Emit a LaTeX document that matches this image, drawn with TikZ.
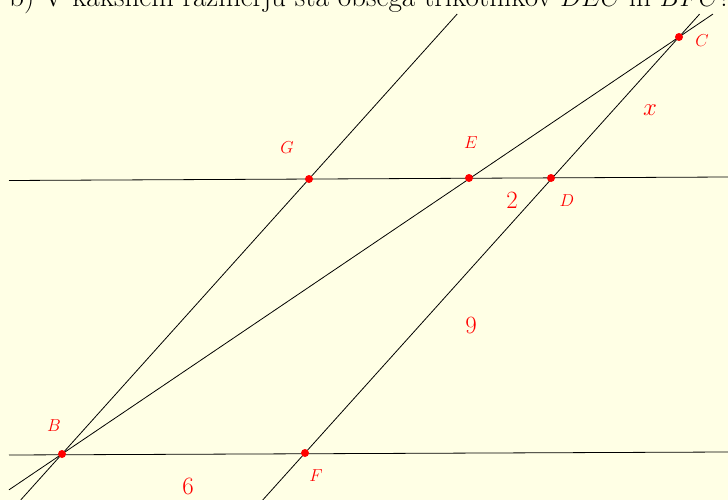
\documentclass[tikz,border=0pt]{standalone}
\usetikzlibrary{calc}
\definecolor{bgc}{RGB}{255,255,229}
\begin{document}
\begin{tikzpicture}[x=1pt,y=-1pt,
  ln/.style={black,line width=0.8pt},
  pt/.style={circle,fill=red,inner sep=0pt,minimum size=8pt},
  lab/.style={red,font=\fontsize{19}{22}\selectfont},
  num/.style={red,font=\fontsize{30}{34}\selectfont}]
\fill[bgc] (0,0) rectangle (728,500);
\useasboundingbox (0,0) rectangle (728,500);
\begin{scope}
\clip (0,0) rectangle (728,500);
\node[anchor=base west,inner sep=0pt,font=\fontsize{29.2}{33}\selectfont] (title) at (9,7) {b) V kakšnem razmerju sta obsega trikotnikov $DEC$ in $BFC$?};
\coordinate (B) at (62,454);
\coordinate (F) at (305,453);
\coordinate (G) at (309,179);
\coordinate (E) at (469,178);
\coordinate (D) at (551,178);
\coordinate (C) at (679,37);
% horizontal lines
\coordinate (h1l) at (9,180.5);
\coordinate (h1r) at (728,177);
\coordinate (h2l) at (9,455);
\coordinate (h2r) at (728,452);
\draw[ln] (h1l) -- (h1r);
\draw[ln] (h2l) -- (h2r);
% line B-G
\coordinate (bg1) at ($(B)!-0.167!(G)$);
\coordinate (bg2) at ($(B)!1.6!(G)$);
\draw[ln] (bg1) -- (bg2);
% line B-C
\coordinate (bc1) at ($(B)!-0.086!(C)$);
\coordinate (bc2) at ($(B)!1.055!(C)$);
\draw[ln] (bc1) -- (bc2);
% line F-C
\coordinate (fc1) at ($(F)!-0.113!(C)$);
\coordinate (fc2) at ($(F)!1.055!(C)$);
\draw[ln] (fc1) -- (fc2);
\end{scope}
\foreach \p in {B,F,G,E,D,C} \node[pt] (n\p) at (\p) {};
\node[lab] (lC) at (702,41) {$C$};
\node[lab] (lG) at (287,148) {$G$};
\node[lab] (lE) at (471,143) {$E$};
\node[lab] (lD) at (567,201) {$D$};
\node[lab] (lB) at (54,426) {$B$};
\node[lab] (lF) at (316,476) {$F$};
\node[num] (lx) at (650,110) {$x$};
\node[num] (l2) at (512,200) {$2$};
\node[num] (l9) at (471,325) {$9$};
\node[num] (l6) at (188,486) {$6$};
\end{tikzpicture}
\end{document}
